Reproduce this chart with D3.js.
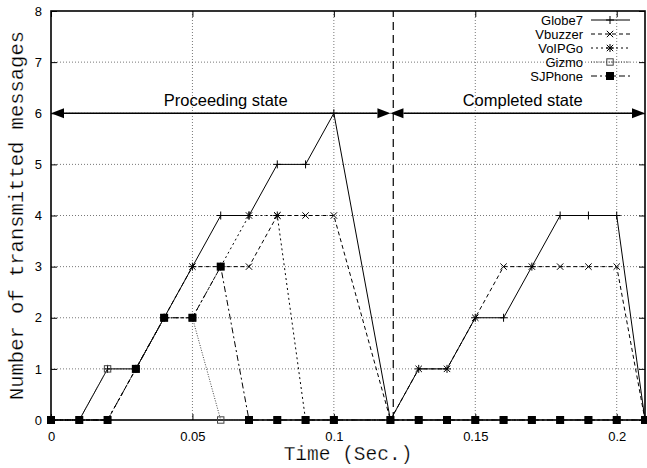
<!DOCTYPE html>
<html>
<head>
<meta charset="utf-8">
<script src="https://cdn.jsdelivr.net/npm/d3@7"></script>
<style>
  body { margin: 0; background: #fff; }
  svg text { fill: #000; }
</style>
</head>
<body>
<div id="chart"></div>
<script>
// sample times (no sample at 0.11)
const times = [0, 0.01, 0.02, 0.03, 0.04, 0.05, 0.06, 0.07, 0.08, 0.09, 0.1,
  0.12, 0.13, 0.14, 0.15, 0.16, 0.17, 0.18, 0.19, 0.2, 0.21]

const globe7 = [0, 0, 1, 1, 2, 3, 4, 4, 5, 5, 6, 0, 1, 1, 2, 2, 3, 4, 4, 4, 0]
const vbuzzer = [0, 0, 0, 1, 2, 3, 3, 3, 4, 4, 4, 0, 1, 1, 2, 3, 3, 3, 3, 3, 0]
const voipgo = [0, 0, 0, 1, 2, 2, 3, 4, 4, 0, 0, 0, 0, 0, 0, 0, 0, 0, 0, 0, 0]
const gizmo = [0, 0, 1, 1, 2, 2, 0, 0, 0, 0, 0, 0, 0, 0, 0, 0, 0, 0, 0, 0, 0]
const sjphone = [0, 0, 0, 1, 2, 2, 3, 0, 0, 0, 0, 0, 0, 0, 0, 0, 0, 0, 0, 0, 0]

const seriesNames = ['Globe7', 'Vbuzzer', 'VoIPGo', 'Gizmo', 'SJPhone']
const seriesValues = [globe7, vbuzzer, voipgo, gizmo, sjphone]

const xTicks = [0, 0.05, 0.1, 0.15, 0.2]
const xTickLabels = ['0', '0.05', '0.1', '0.15', '0.2']
const yTicks = [0, 1, 2, 3, 4, 5, 6, 7, 8]

const phaseBoundary = 0.121
const phases = [
  { label: 'Proceeding state', from: 0, to: 0.12 },
  { label: 'Completed state', from: 0.12, to: 0.21 }
]
const phaseLevel = 6

const width = 647
const height = 468
const margin = { top: 11, right: 2, bottom: 48, left: 51 }

const styles = {
  Globe7: { dash: null, color: '#000', marker: 'plus' },
  Vbuzzer: { dash: '4,3', color: '#000', marker: 'cross' },
  VoIPGo: { dash: '2,3', color: '#000', marker: 'star' },
  Gizmo: { dash: '1,1.5', color: '#444', marker: 'box' },
  SJPhone: { dash: '6,3,2,3', color: '#000', marker: 'fbox' }
}

const svg = d3.select('#chart').append('svg')
  .attr('width', width)
  .attr('height', height)

const x = d3.scaleLinear().domain([0, 0.21]).range([margin.left, width - margin.right])
const y = d3.scaleLinear().domain([0, 8]).range([height - margin.bottom, margin.top])

const x0 = x.range()[0]
const x1 = x.range()[1]
const y0 = y.range()[0]
const y1 = y.range()[1]

// grid
const grid = svg.append('g').attr('class', 'grid')
  .attr('stroke', '#555').attr('stroke-width', 0.8).attr('stroke-dasharray', '1,2')
grid.selectAll('line.gx').data(xTicks.slice(1))
  .enter().append('line')
  .attr('x1', d => x(d)).attr('x2', d => x(d))
  .attr('y1', y0).attr('y2', y1)
grid.selectAll('line.gy').data(yTicks.slice(1, -1))
  .enter().append('line')
  .attr('x1', x0).attr('x2', x1)
  .attr('y1', d => y(d)).attr('y2', d => y(d))

// axes
const fmt = d => xTickLabels[xTicks.indexOf(d)]
const axisB = svg.append('g').attr('transform', 'translate(0,' + y0 + ')')
  .call(d3.axisBottom(x).tickValues(xTicks).tickFormat(fmt).tickSizeInner(-6).tickSizeOuter(0).tickPadding(12))
const axisT = svg.append('g').attr('transform', 'translate(0,' + y1 + ')')
  .call(d3.axisTop(x).tickValues(xTicks).tickFormat('').tickSizeInner(-6).tickSizeOuter(0))
const axisL = svg.append('g').attr('transform', 'translate(' + x0 + ',0)')
  .call(d3.axisLeft(y).tickValues(yTicks).tickFormat(d3.format('d')).tickSizeInner(-6).tickSizeOuter(0).tickPadding(9))
const axisR = svg.append('g').attr('transform', 'translate(' + x1 + ',0)')
  .call(d3.axisRight(y).tickValues(yTicks).tickFormat('').tickSizeInner(-6).tickSizeOuter(0))

;[axisB, axisT, axisL, axisR].forEach(a => {
  a.select('.domain').remove()
  a.selectAll('.tick line').attr('stroke', '#000')
  a.selectAll('text').attr('font-family', 'Liberation Sans, Arial, sans-serif').attr('font-size', 13)
})

// frame
svg.append('rect')
  .attr('x', x0).attr('y', y1)
  .attr('width', x1 - x0).attr('height', y0 - y1)
  .attr('fill', 'none').attr('stroke', '#000').attr('stroke-width', 1.6)

// phase boundary
svg.append('line')
  .attr('x1', x(phaseBoundary)).attr('x2', x(phaseBoundary))
  .attr('y1', y0).attr('y2', y1)
  .attr('stroke', '#000').attr('stroke-width', 1.2).attr('stroke-dasharray', '8,5')

// phase arrows
const head = 13
const hw = 5
const arrows = svg.append('g')
phases.forEach(p => {
  const a = x(p.from)
  const b = x(p.to)
  const yy = y(phaseLevel)
  arrows.append('line')
    .attr('x1', a + head).attr('x2', b - head)
    .attr('y1', yy).attr('y2', yy)
    .attr('stroke', '#000').attr('stroke-width', 1.4)
  arrows.append('path')
    .attr('d', `M${a},${yy}L${a + head},${yy - hw}L${a + head},${yy + hw}Z`)
  arrows.append('path')
    .attr('d', `M${b},${yy}L${b - head},${yy - hw}L${b - head},${yy + hw}Z`)
  arrows.append('text')
    .attr('x', (a + b) / 2 + 5).attr('y', yy - 7)
    .attr('text-anchor', 'middle')
    .attr('font-family', 'Liberation Sans, Arial, sans-serif')
    .attr('font-size', 16.5)
    .text(p.label)
})

// markers
function drawMarker (g, kind, color) {
  if (kind === 'plus') {
    g.append('path').attr('d', 'M-4,0H4M0,-4V4').attr('stroke', color).attr('fill', 'none')
  } else if (kind === 'cross') {
    g.append('path').attr('d', 'M-3.2,-3.2L3.2,3.2M-3.2,3.2L3.2,-3.2').attr('stroke', color).attr('fill', 'none')
  } else if (kind === 'star') {
    g.append('path').attr('d', 'M-3.2,-3.2L3.2,3.2M-3.2,3.2L3.2,-3.2M-4,0H4M0,-4V4').attr('stroke', color).attr('fill', 'none')
  } else if (kind === 'box') {
    g.append('rect').attr('x', -3.2).attr('y', -3.2).attr('width', 6.4).attr('height', 6.4)
      .attr('fill', 'none').attr('stroke', color)
  } else if (kind === 'fbox') {
    g.append('rect').attr('x', -4).attr('y', -4).attr('width', 8).attr('height', 8)
      .attr('fill', color)
  }
}

const line = d3.line().x(d => x(d[0])).y(d => y(d[1]))

seriesNames.forEach((name, i) => {
  const st = styles[name]
  const pts = times.map((t, j) => [t, seriesValues[i][j]])
  const g = svg.append('g').attr('class', 'series')
  g.append('path')
    .datum(pts)
    .attr('d', line)
    .attr('fill', 'none')
    .attr('stroke', st.color)
    .attr('stroke-width', 1)
    .attr('stroke-dasharray', st.dash)
  g.selectAll('g.pt').data(pts).enter()
    .append('g')
    .attr('transform', d => 'translate(' + x(d[0]) + ',' + y(d[1]) + ')')
    .each(function () { drawMarker(d3.select(this), st.marker, st.color) })
})

// legend
const legend = svg.append('g').attr('transform', 'translate(583,20)')
seriesNames.forEach((name, i) => {
  const st = styles[name]
  const row = legend.append('g').attr('transform', 'translate(0,' + i * 14 + ')')
  row.append('text')
    .attr('text-anchor', 'end').attr('dy', '0.35em')
    .attr('font-family', 'Liberation Sans, Arial, sans-serif')
    .attr('font-size', 13)
    .text(name)
  row.append('line')
    .attr('x1', 8).attr('x2', 47).attr('y1', 0).attr('y2', 0)
    .attr('stroke', st.color).attr('stroke-dasharray', st.dash)
  drawMarker(row.append('g').attr('transform', 'translate(27,0)'), st.marker, st.color)
})

// axis titles (thin white edge keeps the mono glyphs light)
svg.append('text')
  .attr('x', (x0 + x1) / 2).attr('y', 460)
  .attr('text-anchor', 'middle')
  .attr('font-family', 'Liberation Mono, Courier New, monospace')
  .attr('font-size', 19.5)
  .attr('stroke', '#fff').attr('stroke-width', 0.25)
  .text('Time (Sec.)')

svg.append('text')
  .attr('transform', 'translate(23,' + (y0 + y1) / 2 + ') rotate(-90)')
  .attr('text-anchor', 'middle')
  .attr('font-family', 'Liberation Mono, Courier New, monospace')
  .attr('font-size', 20.5)
  .attr('stroke', '#fff').attr('stroke-width', 0.25)
  .text('Number of transmitted messages')
</script>
</body>
</html>
